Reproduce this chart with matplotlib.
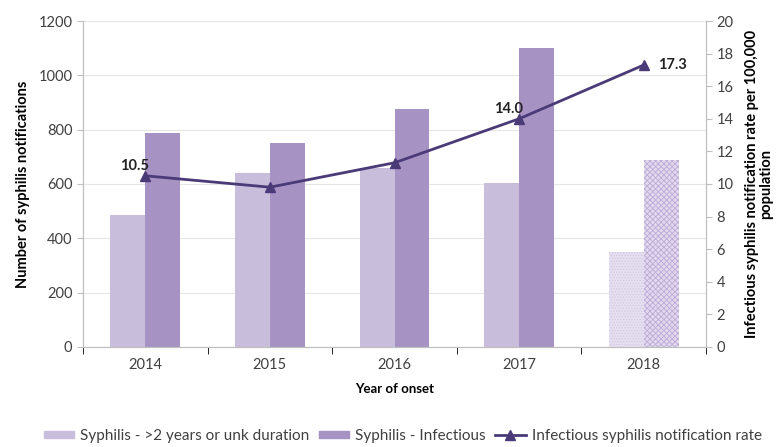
import numpy as np
import matplotlib.pyplot as plt
from matplotlib.lines import Line2D
from matplotlib.patches import Patch

years = ["2014", "2015", "2016", "2017", "2018"]
late_unk = [487, 640, 660, 604, 350]          # Syphilis - >2 years or unk duration
infectious = [788, 751, 876, 1101, 688]       # Syphilis - Infectious
rate = [10.5, 9.8, 11.3, 14.0, 17.3]          # per 100,000
rate_labels = {0: "10.5", 3: "14.0", 4: "17.3"}

light_c = "#c9bddc"
dark_c = "#a792c4"
line_c = "#4a3b78"

plt.rcParams['font.family'] = ['Lato', 'DejaVu Sans']
plt.rcParams['hatch.linewidth'] = 0.6

fig = plt.figure(figsize=(7.82, 4.47), dpi=100)
ax = fig.add_axes([0.106, 0.224, 0.797, 0.729])
ax2 = ax.twinx()

x = np.arange(len(years))
w = 0.28
b1 = ax.bar(x - w / 2, late_unk, w, color=light_c, zorder=2)
b2 = ax.bar(x + w / 2, infectious, w, color=dark_c, zorder=2)

# 2018 is provisional: paler, patterned bars
b1[-1].set_facecolor("#e6dff0")
b1[-1].set_hatch("......")
b1[-1].set_edgecolor("#d2c7e2")
b1[-1].set_linewidth(0)
b2[-1].set_facecolor("#e2d9ee")
b2[-1].set_hatch("xxxxxx")
b2[-1].set_edgecolor("#bcaad6")
b2[-1].set_linewidth(0)

ax.set_ylim(0, 1200)
ax.set_yticks(range(0, 1201, 200))
ax.set_xlim(-0.5, 4.5)
ax.set_xticks(x)
ax.set_xticklabels(years)
ax.set_xticks(np.arange(-0.5, 4.6, 1), minor=True)
ax.grid(axis="y", color="#e6e6e6", linewidth=0.8, zorder=0)
ax.set_axisbelow(True)

ax2.plot(x, rate, color=line_c, linewidth=2, marker="^", markersize=7, zorder=5)
ax2.set_ylim(0, 20)
ax2.set_yticks(range(0, 21, 2))
for i, t in rate_labels.items():
    if i == len(years) - 1:
        ax2.annotate(t, (x[i], rate[i]), xytext=(10, 0), textcoords="offset points",
                     ha="left", va="center", fontsize=10.5, fontweight="bold", color="#222222")
    else:
        ax2.annotate(t, (x[i], rate[i]), xytext=(3, 2), textcoords="offset points",
                     ha="right", va="bottom", fontsize=10.5, fontweight="bold", color="#222222")

for a in (ax, ax2):
    a.spines["top"].set_visible(False)
    a.spines["left"].set_color("#bfbfbf")
    a.spines["right"].set_color("#bfbfbf")
    a.spines["bottom"].set_color("#bfbfbf")
    a.tick_params(labelsize=10.5, labelcolor="#404040", color="#bfbfbf")

ax.tick_params(axis="x", which="major", length=0, pad=8)
ax.tick_params(axis="x", which="minor", length=5, direction="out")
ax.tick_params(axis="y", length=4)
ax2.tick_params(axis="y", length=4)

ax.set_xlabel("Year of onset", fontsize=9.5, fontweight="bold", labelpad=8)
ax.set_ylabel("Number of syphilis notifications", fontsize=10.5, fontweight="bold", labelpad=6)
ax2.set_ylabel("Infectious syphilis notification rate per 100,000\npopulation",
               fontsize=10.5, fontweight="bold", labelpad=8, linespacing=1.0)

handles = [Patch(color=light_c), Patch(color=dark_c),
           Line2D([], [], color=line_c, linewidth=2, marker="^", markersize=7)]
labels = ["Syphilis - >2 years or unk duration", "Syphilis - Infectious",
          "Infectious syphilis notification rate"]
fig.legend(handles, labels, loc="center", bbox_to_anchor=(0.515, 0.025), ncol=3,
           frameon=False, fontsize=11, handlelength=2.0, handleheight=0.3,
           columnspacing=0.6, handletextpad=0.4, labelcolor="#404040")

fig.savefig("out.png", dpi=100)
